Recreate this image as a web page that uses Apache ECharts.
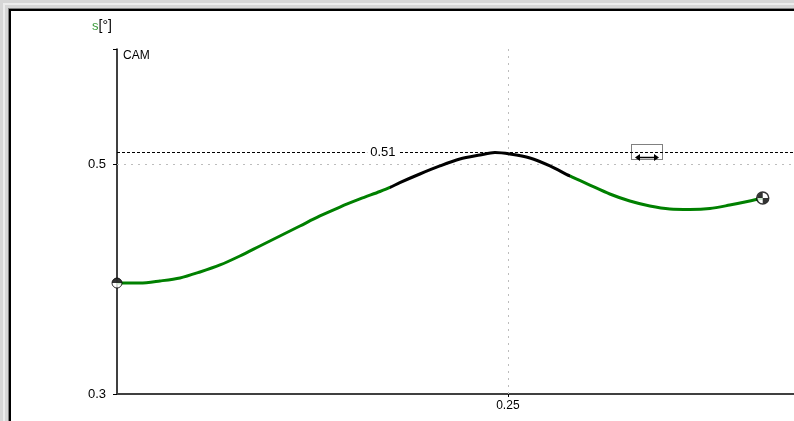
<!DOCTYPE html>
<html>
<head>
<meta charset="utf-8">
<script src="https://cdn.jsdelivr.net/npm/echarts@6/dist/echarts.min.js"></script>
<style>
html,body{margin:0;padding:0;background:#fff;}
#c{width:794px;height:421px;}
</style>
</head>
<body>
<div id="c"></div>
<script>
// ---- data ----
var xValues = [0.0000, 0.0147, 0.0275, 0.0403, 0.0531, 0.0659, 0.0786, 0.0914, 0.1042, 0.1170,
  0.1298, 0.1426, 0.1554, 0.1682, 0.1746, 0.1809, 0.1937, 0.2065, 0.2193, 0.2321,
  0.2417, 0.2513, 0.2641, 0.2769, 0.2896, 0.3024, 0.3152, 0.3280, 0.3408, 0.3536,
  0.3664, 0.3792, 0.3919, 0.4047, 0.4130];
var yValues = [0.3965, 0.3965, 0.3983, 0.4009, 0.4061, 0.4122, 0.4200, 0.4287, 0.4374, 0.4461,
  0.4548, 0.4626, 0.4696, 0.4761, 0.4796, 0.4838, 0.4913, 0.4983, 0.5043, 0.5078,
  0.5100, 0.5087, 0.5052, 0.4983, 0.4896, 0.4817, 0.4739, 0.4678, 0.4635, 0.4609,
  0.4605, 0.4613, 0.4643, 0.4678, 0.4704];
var blackRange = [0.1746, 0.2896];     // x-range drawn in black
var refLevel = 0.51;                   // dashed reference level
var refLabel = '0.51';
var yTickLabels = [0.3, 0.5];
var yTicks = [0.3, 0.5, 0.6];
var xTickLabels = [0.25];
var yMin = 0.3, yMax = 0.6;
var xMin = 0, xMax = 0.433;
var yName = 's';
var yUnit = '[°]';
var curveName = 'CAM';

var pts = xValues.map(function (x, i) { return [x, yValues[i]]; });
var startPt = [pts[0]];
var endPt = [pts[pts.length - 1]];

var FONT = '"Liberation Sans", Arial, sans-serif';
var chart = echarts.init(document.getElementById('c'), null, { renderer: 'canvas' });

var cogPath = 'path://M0,-10 A10,10 0 0,0 -10,0 L0,0 Z M0,10 A10,10 0 0,0 10,0 L0,0 Z';
var halfPath = 'path://M-10,0 A10,10 0 0,1 10,0 Z';

chart.setOption({
  animation: false,
  backgroundColor: '#fff',
  grid: { left: 117, right: 0, top: 49, bottom: 27, containLabel: false },
  xAxis: {
    type: 'value', min: xMin, max: xMax, interval: 0.25,
    axisLine: { show: true, lineStyle: { color: '#404040', width: 2 } },
    axisTick: { show: true, customValues: xTickLabels, length: 3, lineStyle: { color: '#000' } },
    axisLabel: { show: true, customValues: xTickLabels, color: '#000', fontFamily: FONT, fontSize: 12, margin: 6,
      formatter: function (v) { return String(v); } },
    splitLine: { show: false }
  },
  yAxis: {
    type: 'value', min: yMin, max: yMax, interval: 0.1,
    axisLine: { show: true, onZero: false, lineStyle: { color: '#000', width: 1.5 } },
    axisTick: { show: true, customValues: yTicks, length: 4, lineStyle: { color: '#000' } },
    axisLabel: { show: true, customValues: yTickLabels, color: '#000', fontFamily: FONT, fontSize: 13, margin: 11,
      formatter: function (v) { return String(Math.round(v * 10) / 10); } },
    splitLine: { show: false }
  },
  visualMap: {
    type: 'piecewise', show: false, dimension: 0, seriesIndex: 0,
    pieces: [
      { lt: blackRange[0], color: '#008000' },
      { gte: blackRange[0], lte: blackRange[1], color: '#000000' },
      { gt: blackRange[1], color: '#008000' }
    ]
  },
  series: [
    {
      type: 'line', data: pts, smooth: 0.3, showSymbol: false, symbol: 'none',
      lineStyle: { width: 3 },
      z: 5,
      markLine: {
        silent: true, symbol: 'none', animation: false,
        data: [
          [{ coord: [xMin, yTickLabels[1]], lineStyle: { color: '#bdbdbd', type: [2, 5], width: 1 }, label: { show: false } },
           { coord: [xMax, yTickLabels[1]] }],
          [{ coord: [xTickLabels[0], yMin], lineStyle: { color: '#bdbdbd', type: [2, 5], width: 1 }, label: { show: false } },
           { coord: [xTickLabels[0], yMax] }],
          [{ coord: [xMin, refLevel], lineStyle: { color: '#000', type: [3, 2], width: 1 },
             label: { show: true, position: 'end', formatter: refLabel, color: '#000', fontFamily: FONT, fontSize: 13, distance: 3 } },
           { coord: [0.160, refLevel] }],
          [{ coord: [0.181, refLevel], lineStyle: { color: '#000', type: [3, 2], width: 1 }, label: { show: false } },
           { coord: [xMax, refLevel] }]
        ]
      }
    },
    {
      type: 'scatter', data: startPt, clip: false, symbol: 'circle', symbolSize: 10, z: 10,
      itemStyle: { color: '#fff', borderColor: '#000', borderWidth: 1 }
    },
    {
      type: 'scatter', data: startPt, clip: false, symbol: halfPath, symbolSize: [10, 5], symbolOffset: [0, -2.5], z: 11,
      itemStyle: { color: '#000' }
    },
    {
      type: 'scatter', data: endPt, clip: false, symbol: 'circle', symbolSize: 12, z: 10,
      itemStyle: { color: '#fff', borderColor: '#000', borderWidth: 1.5 }
    },
    {
      type: 'scatter', data: endPt, clip: false, symbol: cogPath, symbolSize: 11, z: 11,
      itemStyle: { color: '#000' }
    }
  ],
  graphic: [
    // window frame
    { type: 'rect', left: 0, top: 0, shape: { width: 10, height: 421 }, style: { fill: '#d6d6d6' }, silent: true, z: 100 },
    { type: 'rect', left: 0, top: 0, shape: { width: 794, height: 10 }, style: { fill: '#d6d6d6' }, silent: true, z: 100 },
    { type: 'rect', left: 3, top: 3, shape: { width: 2, height: 418 }, style: { fill: '#ececec' }, silent: true, z: 101 },
    { type: 'rect', left: 3, top: 3, shape: { width: 791, height: 2 }, style: { fill: '#ececec' }, silent: true, z: 101 },
    { type: 'rect', left: 8, top: 8, shape: { width: 1, height: 413 }, style: { fill: '#808080' }, silent: true, z: 101 },
    { type: 'rect', left: 8, top: 8, shape: { width: 786, height: 1 }, style: { fill: '#808080' }, silent: true, z: 101 },
    { type: 'rect', left: 9, top: 9, shape: { width: 2, height: 412 }, style: { fill: '#000' }, silent: true, z: 102 },
    { type: 'rect', left: 9, top: 9, shape: { width: 785, height: 2 }, style: { fill: '#000' }, silent: true, z: 102 },
    // axis name
    { type: 'text', left: 92, top: 19, silent: true, z: 50,
      style: { text: '{g|' + yName + '}{k|' + yUnit + '}', font: '13px ' + FONT,
        rich: { g: { fill: '#3c9c3c', font: '13px ' + FONT }, k: { fill: '#000', font: '14px ' + FONT } } } },
    { type: 'text', left: 123, top: 50, silent: true, z: 50,
      style: { text: curveName, fill: '#000', font: '12px ' + FONT } },
    // drag handle box
    { type: 'rect', silent: true, z: 50,
      shape: { x: 631.5, y: 144.5, width: 31, height: 15 }, style: { fill: 'none', stroke: '#000', lineWidth: 1, lineDash: [1, 1] } },
    { type: 'line', silent: true, z: 51, shape: { x1: 638, y1: 157.5, x2: 656, y2: 157.5 }, style: { stroke: '#000', lineWidth: 1.5 } },
    { type: 'polygon', silent: true, z: 51, shape: { points: [[635, 157.5], [640, 154], [640, 161]] }, style: { fill: '#000' } },
    { type: 'polygon', silent: true, z: 51, shape: { points: [[659, 157.5], [654, 154], [654, 161]] }, style: { fill: '#000' } }
  ]
});
</script>
</body>
</html>
